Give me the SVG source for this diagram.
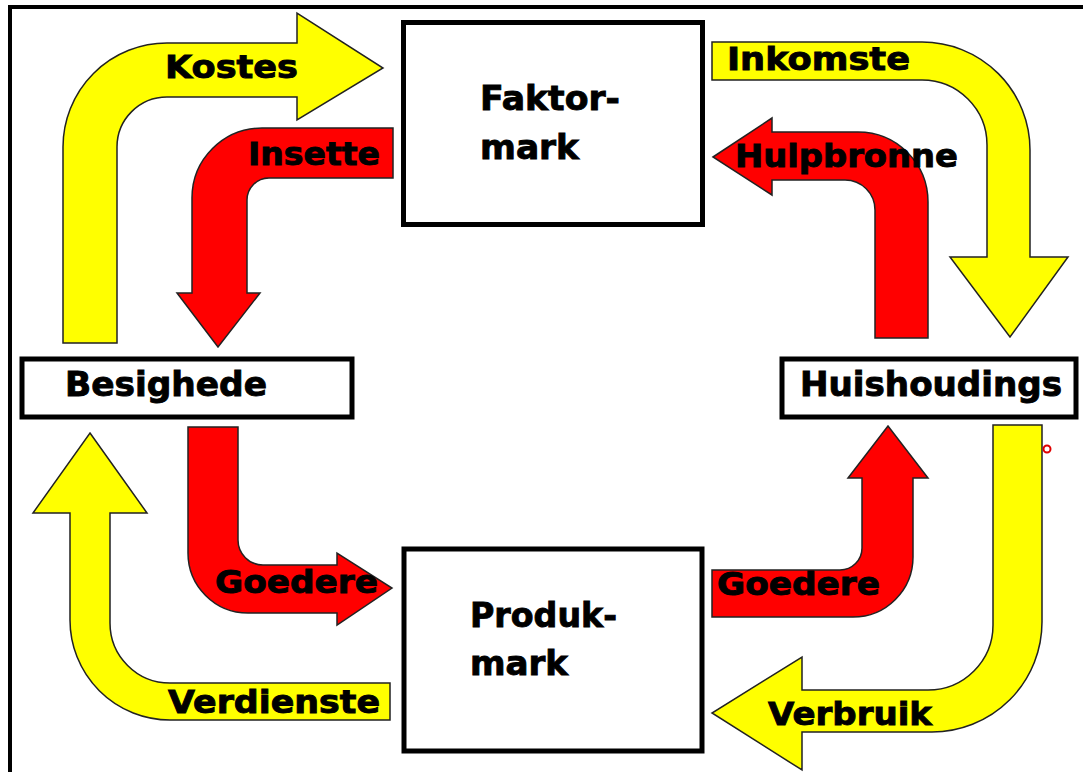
<svg xmlns="http://www.w3.org/2000/svg" width="1083" height="772" viewBox="0 0 1083 772">
<style>
.frame{fill:none;stroke:#000;stroke-width:4}
.box{fill:#fff;stroke:#000;stroke-width:5}
.yel{fill:#ffff00;stroke:#222;stroke-width:1.5;stroke-linejoin:miter}
.red{fill:#ff0000;stroke:#222;stroke-width:1.5;stroke-linejoin:miter}
.lbl{font-family:"DejaVu Sans","Liberation Sans",sans-serif;font-weight:bold;font-size:32px;fill:#000;stroke:#000;stroke-width:0.9}
.nt{font-family:"DejaVu Sans","Liberation Sans",sans-serif;font-weight:bold;font-size:34px;fill:#000;stroke:#000;stroke-width:0.9}
</style>
<rect width="1083" height="772" fill="#fff"/>
<path class="frame" d="M10,772 L10,7 L1083,7"/>
<g id="connectors">
  <g id="kostes">
    <path class="yel" d="M63,343 L63,147 A104,104 0 0 1 167,43 L297,43 L297,13 L383,68 L297,120 L297,97 L167,97 A50,50 0 0 0 117,147 L117,343 Z"/>
    <text class="lbl" x="165" y="78" textLength="133" lengthAdjust="spacingAndGlyphs">Kostes</text>
  </g>
  <g id="insette">
    <path class="red" d="M393,128 L262,128 A70,70 0 0 0 192,198 L192,293 L177,293 L218,347 L260,293 L247,293 L247,200 A22,22 0 0 1 269,178 L393,178 Z"/>
    <text class="lbl" x="248" y="165" textLength="132" lengthAdjust="spacingAndGlyphs">Insette</text>
  </g>
  <g id="inkomste">
    <path class="yel" d="M712,42 L922,42 A108,108 0 0 1 1030,150 L1030,257 L1068,257 L1010,337 L950,257 L987,257 L987,145 A65,65 0 0 0 922,80 L712,80 Z"/>
    <text class="lbl" x="727" y="70" textLength="183" lengthAdjust="spacingAndGlyphs">Inkomste</text>
  </g>
  <g id="hulpbronne">
    <path class="red" d="M713,157 L772,118 L772,132 L858,132 A70,70 0 0 1 928,202 L928,338 L875,338 L875,210 A30,30 0 0 0 845,180 L772,180 L772,195 Z"/>
    <text class="lbl" x="735" y="167" textLength="223" lengthAdjust="spacingAndGlyphs">Hulpbronne</text>
  </g>
  <g id="verdienste">
    <path class="yel" d="M90,433 L147,513 L110,513 L110,623 A60,60 0 0 0 170,683 L390,683 L390,720 L170,720 A100,100 0 0 1 70,620 L70,513 L33,513 Z"/>
    <text class="lbl" x="168" y="713" textLength="212" lengthAdjust="spacingAndGlyphs">Verdienste</text>
  </g>
  <g id="goedere-left">
    <path class="red" d="M188,427 L238,427 L238,540 A25,25 0 0 0 263,565 L337,565 L337,553 L392,588 L337,625 L337,613 L248,613 A60,60 0 0 1 188,553 Z"/>
    <text class="lbl" x="215" y="593" textLength="163" lengthAdjust="spacingAndGlyphs">Goedere</text>
  </g>
  <g id="goedere-right">
    <path class="red" d="M712,570 L840,570 A22,22 0 0 0 862,548 L862,478 L848,478 L888,426 L928,478 L913,478 L913,557 A60,60 0 0 1 853,617 L712,617 Z"/>
    <text class="lbl" x="717" y="595" textLength="163" lengthAdjust="spacingAndGlyphs">Goedere</text>
  </g>
  <g id="verbruik">
    <path class="yel" d="M993,425 L1042,425 L1042,622 A110,110 0 0 1 932,732 L802,732 L802,770 L712,713 L802,657 L802,690 L928,690 A65,65 0 0 0 993,625 Z"/>
    <text class="lbl" x="768" y="725" textLength="164" lengthAdjust="spacingAndGlyphs">Verbruik</text>
  </g>
</g>
<g id="faktormark">
  <rect class="box" x="403.5" y="22.5" width="299" height="202"/>
  <text class="nt" x="480" y="110" textLength="140" lengthAdjust="spacingAndGlyphs">Faktor-</text>
  <text class="nt" x="480" y="159" textLength="99" lengthAdjust="spacingAndGlyphs">mark</text>
</g>
<g id="produkmark">
  <rect class="box" x="404" y="549" width="298" height="202"/>
  <text class="nt" x="470" y="627" textLength="147" lengthAdjust="spacingAndGlyphs">Produk-</text>
  <text class="nt" x="470" y="675" textLength="98" lengthAdjust="spacingAndGlyphs">mark</text>
</g>
<g id="besighede">
  <rect class="box" x="22" y="359" width="330" height="58"/>
  <text class="nt" x="65" y="396" textLength="202" lengthAdjust="spacingAndGlyphs" font-size="31">Besighede</text>
</g>
<g id="huishoudings">
  <rect class="box" x="782" y="359" width="294" height="58"/>
  <text class="nt" x="800" y="396" textLength="262" lengthAdjust="spacingAndGlyphs" font-size="33">Huishoudings</text>
</g>
<circle cx="1047" cy="449" r="3.5" fill="#fff" stroke="#e00000" stroke-width="2"/>
</svg>
